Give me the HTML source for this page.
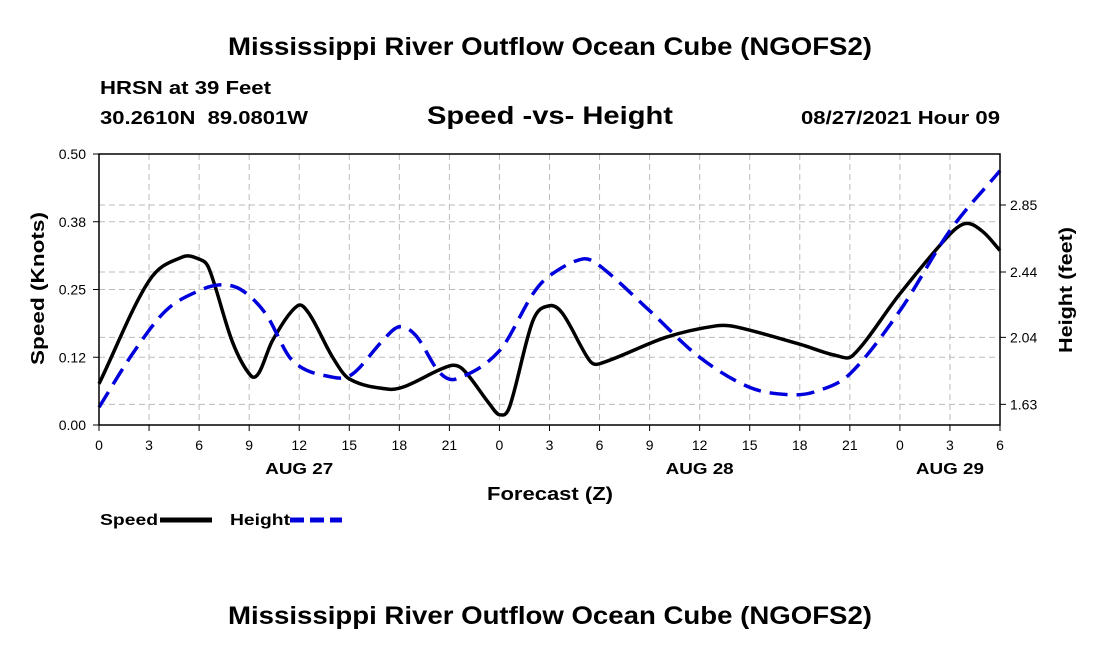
<!DOCTYPE html>
<html><head><meta charset="utf-8"><style>
body{margin:0;background:#fff;}
svg text{font-family:"Liberation Sans",sans-serif;fill:#000;}
</style></head><body>
<svg width="1100" height="650" viewBox="0 0 1100 650">
<text x="228" y="55" font-size="25" font-weight="bold" textLength="644" lengthAdjust="spacingAndGlyphs">Mississippi River Outflow Ocean Cube (NGOFS2)</text>
<text x="100" y="94" font-size="18" font-weight="bold" textLength="171" lengthAdjust="spacingAndGlyphs">HRSN at 39 Feet</text>
<text x="100" y="124" font-size="18" font-weight="bold" textLength="208" lengthAdjust="spacingAndGlyphs" xml:space="preserve">30.2610N  89.0801W</text>
<text x="427" y="124" font-size="25" font-weight="bold" textLength="246" lengthAdjust="spacingAndGlyphs">Speed -vs- Height</text>
<text x="801" y="124" font-size="18" font-weight="bold" textLength="199" lengthAdjust="spacingAndGlyphs">08/27/2021 Hour 09</text>
<g id="grid"></g>
<g id="axes"></g>
<g id="series"></g>
<rect x="99" y="154" width="901" height="271" fill="none" stroke="#000" stroke-width="1.5"/>
<text x="487" y="500" font-size="18" font-weight="bold" textLength="126" lengthAdjust="spacingAndGlyphs">Forecast (Z)</text>
<text transform="translate(44,365) rotate(-90)" font-size="18" font-weight="bold" textLength="153" lengthAdjust="spacingAndGlyphs">Speed (Knots)</text>
<text transform="translate(1072,353) rotate(-90)" font-size="18" font-weight="bold" textLength="126" lengthAdjust="spacingAndGlyphs">Height (feet)</text>
<g>
<text x="100" y="525" font-size="16" font-weight="bold" textLength="58" lengthAdjust="spacingAndGlyphs">Speed</text>
<line x1="160" y1="520" x2="212" y2="520" stroke="#000" stroke-width="5"/></g>
<g>
<text x="230" y="525" font-size="16" font-weight="bold" textLength="60" lengthAdjust="spacingAndGlyphs">Height</text>
<line x1="290" y1="520" x2="342" y2="520" stroke="#0000dd" stroke-width="5" stroke-dasharray="14,6"/></g>
<text x="228" y="624" font-size="25" font-weight="bold" textLength="644" lengthAdjust="spacingAndGlyphs">Mississippi River Outflow Ocean Cube (NGOFS2)</text>
</svg>
<script>
const speedHours=[0,3,5,6,6.6,8,9.1,9.6,10.4,11.9,12.6,14,15,17.4,18.4,21,21.8,23.4,24,24.6,26,27,27.8,29.4,30,34,37,38.2,42,44.2,45.2,48,51,52,53,54];
const speedValues=[0.076,0.266,0.310,0.306,0.288,0.153,0.091,0.097,0.156,0.220,0.205,0.125,0.085,0.066,0.072,0.109,0.103,0.039,0.019,0.033,0.192,0.220,0.205,0.119,0.113,0.162,0.183,0.181,0.149,0.128,0.129,0.242,0.352,0.372,0.356,0.322];
const heightHours=[0,2,4,6,7.4,8.6,10,11.6,14,15.2,17,18,19,20.4,21.4,24,26,27,29,30,33,36,39,41.4,43,45,48,51,54];
const heightValues=[1.612,1.938,2.203,2.326,2.362,2.326,2.183,1.897,1.796,1.816,2.020,2.105,2.050,1.826,1.785,1.958,2.305,2.417,2.520,2.479,2.203,1.918,1.734,1.689,1.710,1.816,2.203,2.693,3.060];
const xTicks=[0,3,6,9,12,15,18,21,0,3,6,9,12,15,18,21,0,3,6];
const speedTicks=[0,0.125,0.25,0.375,0.5];
const speedTickLabels=["0.00","0.12","0.25","0.38","0.50"];
const heightTicks=[1.63,2.04,2.44,2.85];
const dayLabels=["AUG 27","AUG 28","AUG 29"];
const dayHours=[12,36,51];
const NS="http://www.w3.org/2000/svg";
const X0=99,X1=1000,Y0=425,Y1=154,HMAX=54;
const xs=h=>X0+(X1-X0)*h/HMAX;
const ys=v=>Y0-(Y0-Y1)*v/0.5;
const yh=v=>205+(2.85-v)*163.4;
function mk(tag,attrs,parent,txt){const e=document.createElementNS(NS,tag);for(const k in attrs)e.setAttribute(k,attrs[k]);if(txt!==undefined)e.textContent=txt;document.getElementById(parent).appendChild(e);return e;}
xTicks.forEach((t,i)=>{const x=xs(i*3);
 if(i>0&&i<xTicks.length-1){const g=mk('line',{x1:x,y1:Y1,x2:x,y2:Y0,stroke:'#bbb','stroke-dasharray':'6,4'},'grid');}
 const tk=mk('line',{x1:x,y1:Y0,x2:x,y2:Y0+6,stroke:'#000'},'axes');
 const l=mk('text',{x:x,y:450,'font-size':14,'text-anchor':'middle'},'axes',String(t));});
dayLabels.forEach((d,i)=>{const l=mk('text',{x:xs(dayHours[i]),y:474,'font-size':16,'font-weight':'bold','text-anchor':'middle',textLength:68,lengthAdjust:'spacingAndGlyphs'},'axes',d);});
speedTicks.forEach((v,i)=>{const y=ys(v);
 if(i>0&&i<speedTicks.length-1){const g=mk('line',{x1:X0,y1:y,x2:X1,y2:y,stroke:'#bbb','stroke-dasharray':'6,4'},'grid');}
 const tk=mk('line',{x1:X0-6,y1:y,x2:X0,y2:y,stroke:'#000'},'axes');
 const l=mk('text',{x:86,y:y+5,'font-size':14,'text-anchor':'end'},'axes',speedTickLabels[i]);});
heightTicks.forEach(v=>{const y=yh(v);
 const g=mk('line',{x1:X0,y1:y,x2:X1,y2:y,stroke:'#bbb','stroke-dasharray':'6,4'},'grid');
 const tk=mk('line',{x1:X1,y1:y,x2:X1+6,y2:y,stroke:'#000'},'axes');
 const l=mk('text',{x:1010,y:y+5,'font-size':14},'axes',v.toFixed(2));});
function smooth(pts){const n=pts.length,m=[];
 for(let i=0;i<n;i++){const a=pts[Math.max(0,i-1)],b=pts[Math.min(n-1,i+1)];m.push((b[1]-a[1])/(b[0]-a[0]));}
 let d=`M${pts[0][0]},${pts[0][1]}`;
 for(let i=0;i<n-1;i++){const p=pts[i],q=pts[i+1],dx=(q[0]-p[0])/3;
  d+=` C${p[0]+dx},${p[1]+m[i]*dx} ${q[0]-dx},${q[1]-m[i+1]*dx} ${q[0]},${q[1]}`;}
 return d;}
const sp=mk('path',{d:smooth(speedHours.map((h,i)=>[xs(h),ys(speedValues[i])])),fill:'none',stroke:'#000','stroke-width':3.5},'series');


const hp=mk('path',{d:smooth(heightHours.map((h,i)=>[xs(h),yh(heightValues[i])])),fill:'none',stroke:'#0000dd','stroke-width':3.5,'stroke-dasharray':'18,9'},'series');


</script>
</body></html>
